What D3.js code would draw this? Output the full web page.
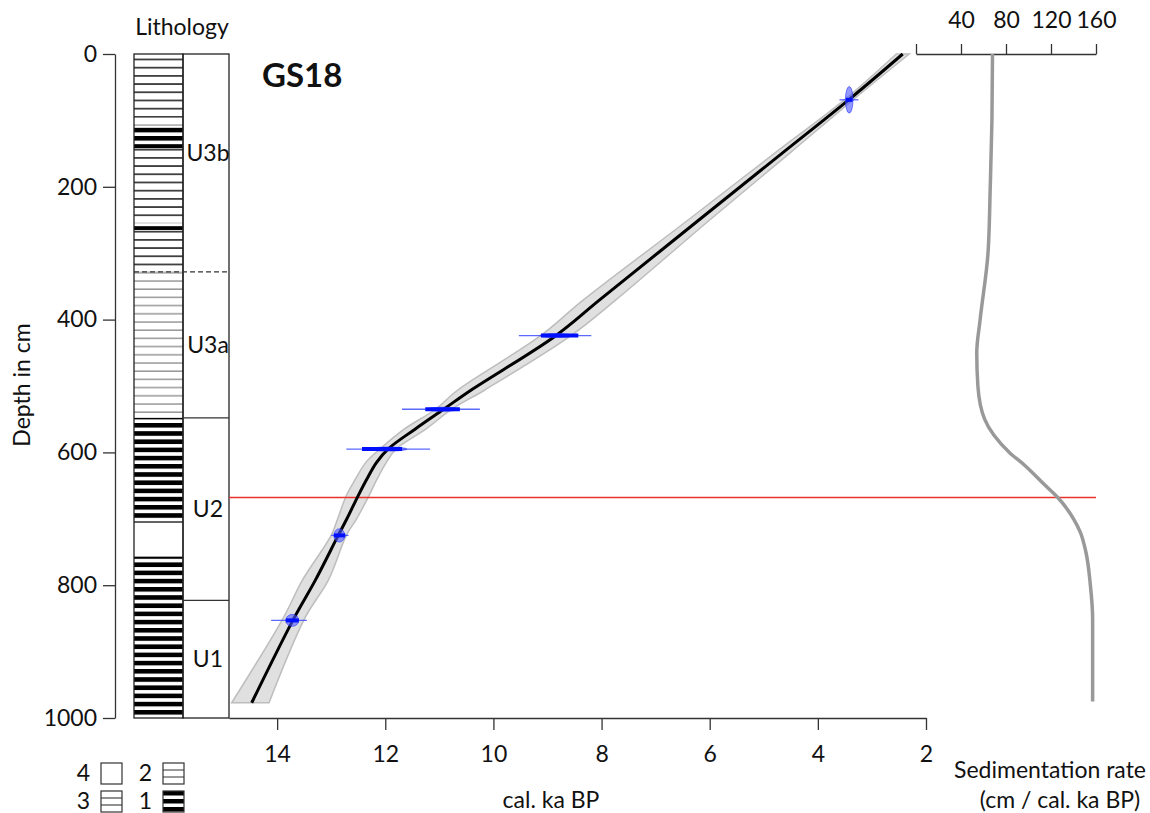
<!DOCTYPE html>
<html>
<head>
<meta charset="utf-8">
<script src="https://cdn.jsdelivr.net/npm/d3@7"></script>
<style>
body { margin: 0; background: #fff; }
text { font-family: Lato, "Open Sans", sans-serif; fill: #111; }
</style>
</head>
<body>
<svg id="svg" width="1150" height="813"></svg>
<script>
// age-depth model (depth cm, age cal ka BP)
var modelDepth = [0, 69, 150, 250, 370, 425, 506, 535, 565, 595, 615, 640, 665, 700, 725, 792, 850, 977];
var modelAge   = [2.43, 3.43, 4.67, 6.2, 8.03, 8.86, 10.41, 10.92, 11.45, 11.95, 12.16, 12.34, 12.5, 12.71, 12.87, 13.29, 13.69, 14.47];
var bandYoung  = [2.31, 3.35, 4.53, 6.0, 7.73, 8.58, 10.16, 10.77, 11.25, 11.8, 11.98, 12.15, 12.3, 12.53, 12.72, 13.05, 13.49, 14.15];
var bandOld    = [2.55, 3.51, 4.81, 6.4, 8.33, 9.14, 10.66, 11.07, 11.65, 12.1, 12.36, 12.55, 12.72, 12.88, 13.0, 13.53, 13.89, 14.84];

// dated samples
var dateDepth = [69, 424, 535, 595, 725, 853];
var dateAge   = [3.42, 8.84, 10.93, 11.95, 12.85, 13.72];
var dateMin   = [3.25, 8.19, 10.25, 11.17, 12.68, 13.45];
var dateMax   = [3.6, 9.53, 11.69, 12.72, 13.0, 14.11];
var coreMin   = [3.36, 8.43, 10.62, 11.69, 12.74, 13.6];
var coreMax   = [3.48, 9.12, 11.26, 12.43, 12.95, 13.84];
var blobAge   = [0.07, 0.3, 0.3, 0.35, 0.1, 0.12];
var blobDepth = [20, 3, 3, 3, 10, 9];

// sedimentation rate (cm / cal ka BP)
var sedDepth = [0, 100, 200, 300, 400, 450, 500, 550, 600, 620, 650, 668, 700, 720, 750, 800, 850, 975];
var sedRate  = [68, 67.5, 66, 64, 57, 54, 55, 61, 83, 97, 115, 126, 140, 146, 151, 155, 157, 157];

// lithology
var lithTop  = [0, 96, 108, 142, 245, 255, 265, 328, 548, 706, 757];
var lithBot  = [96, 108, 142, 245, 255, 265, 328, 548, 706, 757, 1000];
var lithType = [2, 3, 1, 2, 3, 1, 2, 3, 1, 4, 1];

var unitName = ["U3b", "U3a", "U2", "U1"];
var unitTop  = [0, 328, 548, 823];
var unitBot  = [328, 548, 823, 1000];

var depthTicks = [0, 200, 400, 600, 800, 1000];
var ageTicks   = [14, 12, 10, 8, 6, 4, 2];
var rateTicks  = [0, 40, 80, 120, 160];
var legendTypes = [4, 2, 3, 1];
var boundaryDepth = 668;
var ageLeft = 14.89;

var FS = 23;
var svg = d3.select("#svg");
var y  = d3.scaleLinear().domain([0, 1000]).range([54, 718]);
var x  = d3.scaleLinear().domain([ageLeft, 2]).range([229, 926]);
var sx = d3.scaleLinear().domain([0, 160]).range([916, 1096]);

// patterns
var defs = svg.append("defs");
var P = 8.2;
var p1 = defs.append("pattern").attr("id", "lith1").attr("patternUnits", "userSpaceOnUse")
  .attr("x", 0).attr("y", 54).attr("width", 60).attr("height", P);
p1.append("rect").attr("x", 0).attr("y", 0).attr("width", 60).attr("height", 4.6).attr("fill", "#000");
var p2 = defs.append("pattern").attr("id", "lith2").attr("patternUnits", "userSpaceOnUse")
  .attr("x", 0).attr("y", 54).attr("width", 60).attr("height", P);
p2.append("line").attr("x1", 0).attr("x2", 60).attr("y1", 5.5).attr("y2", 5.5).attr("stroke", "#000").attr("stroke-width", 1.4);
var p3 = defs.append("pattern").attr("id", "lith3").attr("patternUnits", "userSpaceOnUse")
  .attr("x", 0).attr("y", 54).attr("width", 60).attr("height", P);
p3.append("line").attr("x1", 0).attr("x2", 60).attr("y1", 5.5).attr("y2", 5.5).attr("stroke", "#777").attr("stroke-width", 1.1);

function fillOf(t) { return t === 4 ? "#fff" : "url(#lith" + t + ")"; }

// lithology column
var colX = 134, colW = 49, unitX = 183, unitW = 46;
svg.append("g").selectAll("rect").data(lithTop).enter().append("rect")
  .attr("x", colX).attr("width", colW)
  .attr("y", function(d) { return y(d); })
  .attr("height", function(d, i) { return y(lithBot[i]) - y(d); })
  .attr("fill", function(d, i) { return fillOf(lithType[i]); });
svg.append("rect").attr("x", colX).attr("y", y(0)).attr("width", colW).attr("height", y(1000) - y(0))
  .attr("fill", "none").attr("stroke", "#222").attr("stroke-width", 1.3);
svg.append("rect").attr("x", unitX).attr("y", y(0)).attr("width", unitW).attr("height", y(1000) - y(0))
  .attr("fill", "none").attr("stroke", "#222").attr("stroke-width", 1.3);

// unit boundaries
var ub = unitTop.slice(1);
svg.append("g").selectAll("line").data(ub).enter().append("line")
  .attr("x1", function(d, i) { return i === 0 ? colX : unitX; })
  .attr("x2", unitX + unitW)
  .attr("y1", function(d) { return y(d); }).attr("y2", function(d) { return y(d); })
  .attr("stroke", "#333").attr("stroke-width", 1.2)
  .attr("stroke-dasharray", function(d, i) { return i === 0 ? "5,3" : null; });
svg.append("g").selectAll("text").data(unitName).enter().append("text")
  .attr("x", unitX + unitW / 2 + 2)
  .attr("y", function(d, i) { return y((unitTop[i] + unitBot[i]) / 2) + 8 - (i === 0 ? 10 : 0); })
  .attr("text-anchor", "middle").attr("font-size", FS).text(function(d) { return d; });

svg.append("text").attr("x", 182).attr("y", 35).attr("text-anchor", "middle").attr("font-size", FS).text("Lithology");

// axes
function styleAxis(g) {
  g.selectAll("path, line").attr("stroke", "#333").attr("stroke-width", 1.3);
  g.selectAll("text").attr("font-size", FS).attr("fill", "#111").attr("font-family", "Lato, sans-serif");
}
svg.append("g").attr("transform", "translate(115,0)")
  .call(d3.axisLeft(y).tickValues(depthTicks).tickSize(12).tickSizeOuter(0).tickPadding(6).tickFormat(d3.format("d")))
  .call(styleAxis);
svg.append("g").attr("transform", "translate(0," + y(1000) + ")")
  .call(d3.axisBottom(x).tickValues(ageTicks).tickSize(12).tickSizeOuter(0).tickPadding(16))
  .call(styleAxis);
svg.append("g").attr("transform", "translate(0," + y(0) + ")")
  .call(d3.axisTop(sx).tickValues(rateTicks).tickSize(10).tickSizeOuter(0).tickPadding(16)
    .tickFormat(function(d) { return d === 0 ? "" : d; }))
  .call(styleAxis);

svg.append("text").attr("transform", "translate(30,385) rotate(-90)").attr("text-anchor", "middle")
  .attr("font-size", FS).text("Depth in cm");
svg.append("text").attr("x", 551).attr("y", 808).attr("text-anchor", "middle").attr("font-size", FS).text("cal. ka BP");
svg.append("text").attr("x", 1050).attr("y", 778).attr("text-anchor", "middle").attr("font-size", FS).text("Sedimentation rate");
svg.append("text").attr("x", 1060).attr("y", 808).attr("text-anchor", "middle").attr("font-size", FS).text("(cm / cal. ka BP)");
svg.append("text").attr("x", 262).attr("y", 87).attr("font-size", 33).attr("font-weight", "bold").text("GS18");

// model envelope
var model = modelDepth.map(function(d, i) { return {d: d, a: modelAge[i], lo: bandYoung[i], hi: bandOld[i]}; });
svg.append("path").datum(model)
  .attr("d", d3.area().curve(d3.curveCatmullRom.alpha(0.5))
    .y(function(p) { return y(p.d); })
    .x0(function(p) { return x(p.hi); })
    .x1(function(p) { return x(p.lo); }))
  .attr("fill", "#e0e0e0").attr("stroke", "#bdbdbd").attr("stroke-width", 1.5);

// red boundary
svg.append("line").attr("x1", x.range()[0]).attr("x2", sx.range()[1])
  .attr("y1", y(boundaryDepth)).attr("y2", y(boundaryDepth))
  .attr("stroke", "#e8332a").attr("stroke-width", 1.5);

// model line
svg.append("path").datum(model)
  .attr("d", d3.line().curve(d3.curveCatmullRom.alpha(0.5))
    .x(function(p) { return x(p.a); }).y(function(p) { return y(p.d); }))
  .attr("fill", "none").attr("stroke", "#000").attr("stroke-width", 3);

// dates
var dg = svg.append("g").selectAll("g").data(dateDepth).enter().append("g");
dg.append("line")
  .attr("x1", function(d, i) { return x(dateMax[i]); }).attr("x2", function(d, i) { return x(dateMin[i]); })
  .attr("y1", function(d) { return y(d); }).attr("y2", function(d) { return y(d); })
  .attr("stroke", "#3344ff").attr("stroke-opacity", 0.8).attr("stroke-width", 1.3);
dg.append("ellipse")
  .attr("cx", function(d, i) { return x(dateAge[i]); })
  .attr("cy", function(d) { return y(d); })
  .attr("rx", function(d, i) { return Math.abs(x(dateAge[i] + blobAge[i]) - x(dateAge[i])); })
  .attr("ry", function(d, i) { return y(d + blobDepth[i]) - y(d); })
  .attr("fill", "#4d55ff").attr("fill-opacity", 0.6).attr("stroke", "#2233ff").attr("stroke-opacity", 0.6);
dg.append("line")
  .attr("x1", function(d, i) { return x(coreMax[i]); }).attr("x2", function(d, i) { return x(coreMin[i]); })
  .attr("y1", function(d) { return y(d); }).attr("y2", function(d) { return y(d); })
  .attr("stroke", "#0010ff").attr("stroke-width", 4);

// sedimentation rate curve
svg.append("path").datum(sedDepth)
  .attr("d", d3.line().curve(d3.curveMonotoneY)
    .x(function(d, i) { return sx(sedRate[i]); }).y(function(d) { return y(d); }))
  .attr("fill", "none").attr("stroke", "#999").attr("stroke-width", 3.5);

// legend
var lg = svg.append("g").selectAll("g").data(legendTypes).enter().append("g")
  .attr("transform", function(d, i) { return "translate(" + (101 + (i % 2) * 62) + "," + (763 + Math.floor(i / 2) * 28) + ")"; });
lg.append("rect").attr("width", 21).attr("height", 21).attr("fill", "#fff");
lg.each(function(t) {
  var g = d3.select(this);
  if (t === 1) {
    [0, 8, 16].forEach(function(o) { g.append("rect").attr("y", o).attr("width", 21).attr("height", 4.5).attr("fill", "#000"); });
  } else if (t === 2 || t === 3) {
    [7, 14].forEach(function(o) {
      g.append("line").attr("x1", 0).attr("x2", 21).attr("y1", o).attr("y2", o)
        .attr("stroke", t === 2 ? "#333" : "#555").attr("stroke-width", t === 2 ? 1 : 1.3);
    });
  }
});
lg.append("rect").attr("width", 21).attr("height", 21).attr("fill", "none").attr("stroke", "#333").attr("stroke-width", 1.2);
lg.append("text").attr("x", -11).attr("y", 18).attr("text-anchor", "end").attr("font-size", FS)
  .text(function(d) { return d; });
</script>
</body>
</html>
